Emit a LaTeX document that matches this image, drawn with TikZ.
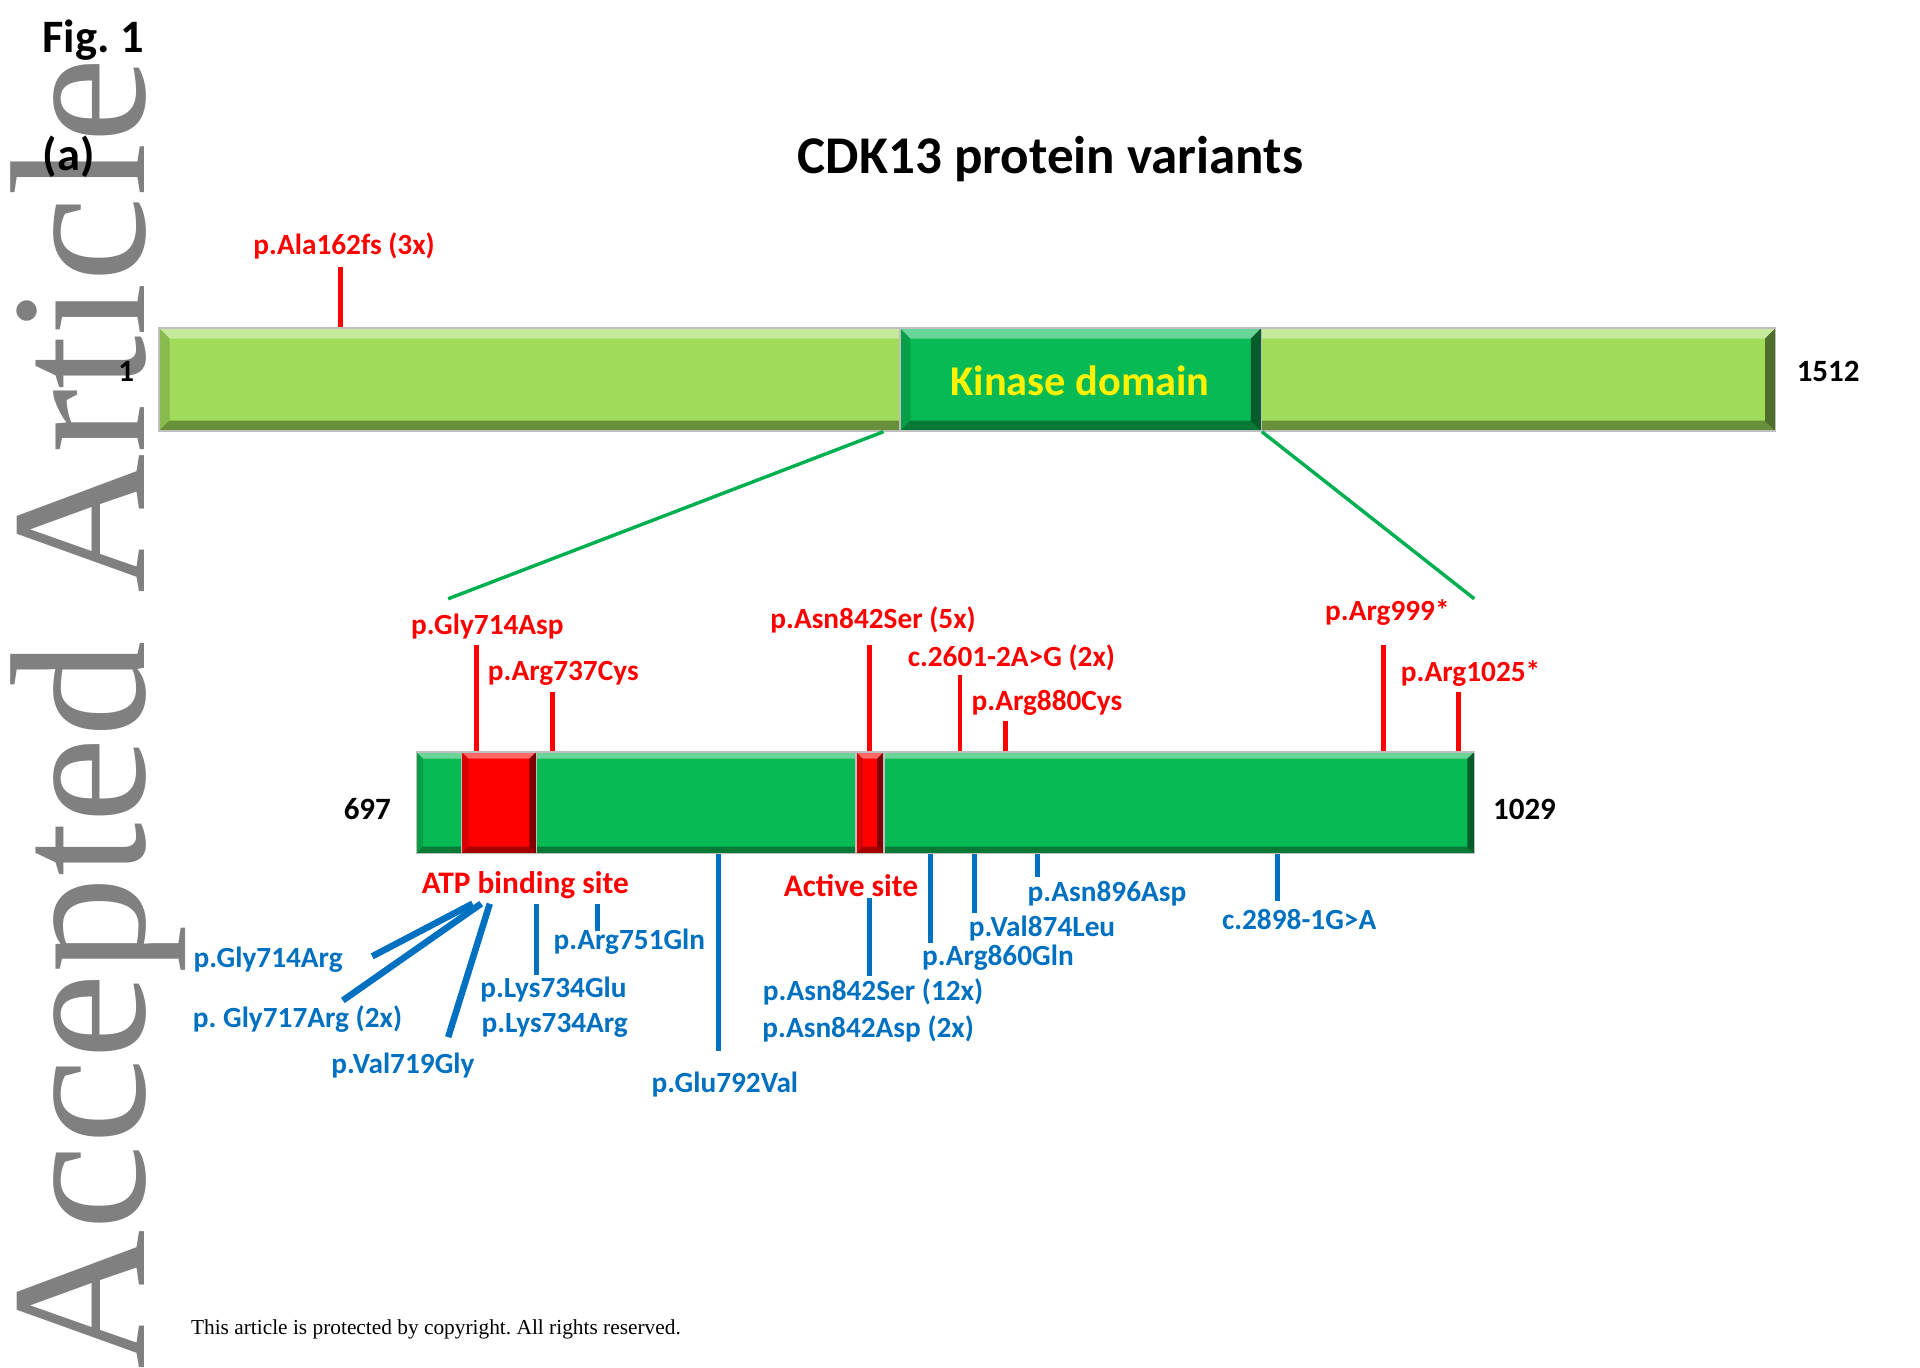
\documentclass[tikz,border=0pt]{standalone}
\usepackage{fontspec}
\setmainfont{Carlito}
\newfontfamily\wmserif{Liberation Serif}
\usepackage{tikz}
\usetikzlibrary{fit,positioning,calc}
\definecolor{mutred}{RGB}{255,0,0}
\definecolor{mutblue}{RGB}{0,112,192}
\definecolor{kinasegreen}{RGB}{8,186,84}
\definecolor{protgreen}{RGB}{160,220,90}
\definecolor{zoomgreen}{RGB}{0,176,80}
\definecolor{wmgray}{RGB}{128,128,128}
\frenchspacing
\newcommand{\lblsize}{\fontsize{8.5}{10}\selectfont}
\tikzset{bevel/.style={path picture={
    \fill[white,opacity=.4] (path picture bounding box.north west) -- (path picture bounding box.north east)
        -- ([xshift=-#1,yshift=-#1]path picture bounding box.north east) -- ([xshift=#1,yshift=-#1]path picture bounding box.north west) -- cycle;
    \fill[black,opacity=.35] (path picture bounding box.south west) -- (path picture bounding box.south east)
        -- ([xshift=-#1,yshift=#1]path picture bounding box.south east) -- ([xshift=#1,yshift=#1]path picture bounding box.south west) -- cycle;
    \fill[black,opacity=.15] (path picture bounding box.south west) -- (path picture bounding box.north west)
        -- ([xshift=#1,yshift=-#1]path picture bounding box.north west) -- ([xshift=#1,yshift=#1]path picture bounding box.south west) -- cycle;
    \fill[black,opacity=.5] (path picture bounding box.south east) -- (path picture bounding box.north east)
        -- ([xshift=-#1,yshift=-#1]path picture bounding box.north east) -- ([xshift=-#1,yshift=#1]path picture bounding box.south east) -- cycle;
}}}
\tikzstyle{bar}=[rectangle,inner sep=0pt,draw=black!25,line width=0.4pt]
\tikzstyle{mut}=[inner sep=0pt,font=\bfseries\lblsize]
\tikzstyle{red mut}=[mut,text=mutred]
\tikzstyle{blue mut}=[mut,text=mutblue]
\tikzstyle{site}=[inner sep=0pt,text=mutred,font=\bfseries\fontsize{9.1}{11}\selectfont]
\tikzstyle{num}=[inner sep=0pt,font=\bfseries\fontsize{9}{11}\selectfont]
\tikzstyle{redtick}=[draw=mutred,line width=1.35pt]
\tikzstyle{bluetick}=[draw=mutblue,line width=1.45pt]
\tikzstyle{atpline}=[draw=mutblue,line width=1.9pt]
\tikzstyle{zoomline}=[draw=zoomgreen,line width=1pt]

\begin{document}
\begin{tikzpicture}[x=0.0125cm,y=-0.0125cm]
\useasboundingbox (0,0) rectangle (1568,1117);

    % watermark
    \node[anchor=base west,rotate=90,inner sep=0pt,text=wmgray,font=\wmserif\fontsize{56}{60}\selectfont] (wm) at (118,1119) {Accepted Article};

    \node[inner sep=0pt,font=\bfseries\fontsize{13.5}{16}\selectfont] (fig) at (76,33) {Fig. 1};
    \node[inner sep=0pt,font=\bfseries\fontsize{13.5}{16}\selectfont] (panel) at (56,128) {(a)};
    \node[inner sep=0pt,font=\bfseries\fontsize{15.4}{18}\selectfont] (title) at (858,130) {CDK13 protein variants};

	% full protein
    \node[bar,fill=protgreen,bevel=3pt,fit={(130,268) (1450,352)}] (prot) {};
    \node[bar,fill=kinasegreen,bevel=3pt,fit={(735,268) (1030,352)}] (kin) {};
    \node[inner sep=0pt,text=yellow,font=\bfseries\fontsize{12.3}{14}\selectfont] (kintxt) at (882,311) {Kinase domain};
    \node[num] (n1) at (103,303) {1};
    \node[num] (n1512) at (1493,303) {1512};

    \node[red mut] (ala) at (281,201) {p.Ala162fs (3x)};
    \coordinate (alat) at (278,218);
    \draw[redtick] (alat) -- (alat |- prot.north);

	% kinase domain
    \node[bar,fill=kinasegreen,bevel=2pt,fit={(340,614) (1204,697)}] (dom) {};
    \node[bar,fill=mutred,bevel=2pt,fit={(377,614) (438,697)}] (atp) {};
    \node[bar,fill=mutred,bevel=2pt,fit={(699,614) (722,697)}] (act) {};
    \node[num] (n697) at (300,661) {697};
    \node[num] (n1029) at (1245,661) {1029};

    \coordinate (zl) at (366,489);
    \coordinate (zr) at (1204,489);
    \draw[zoomline] ([xshift=-4.6pt]kin.south west) -- (zl);
    \draw[zoomline] (kin.south east) -- (zr);

	% variants above
    \foreach \tx/\ty/\lx/\ly/\txt [count=\i] in {389/527/398/512/p.Gly714Asp, 451/565/460/550/p.Arg737Cys,
            710/527/713/506/p.Asn842Ser (5x), 784/551/826/537/c.2601-2A>G (2x), 821/589/855/574/p.Arg880Cys,
            1130/527/1133/500/p.Arg999*, 1191/565/1201/550/p.Arg1025*}
    {
        \node[red mut] (r\i) at (\lx,\ly) {\txt};
        \coordinate (rt\i) at (\tx,\ty);
        \draw[redtick] (rt\i) -- (rt\i |- dom.north);
    }

	% variants below
    \foreach \tx/\ty/\lx/\ly/\txt [count=\i] in {587/858/592/886/p.Glu792Val, 760/770/815/782/p.Arg860Gln,
            796/746/851/758/p.Val874Leu, 847/716/904/730/p.Asn896Asp, 1043/736/1061/751/c.2898-1G>A}
    {
        \node[blue mut] (b\i) at (\lx,\ly) {\txt};
        \coordinate (bt\i) at (\tx,\ty);
        \draw[bluetick] (bt\i |- dom.south) -- (bt\i);
    }

    \node[site] (atplbl) at (429,723) {ATP binding site};
    \node[site] (actlbl) at (695,723) {Active site};

    \node[blue mut] (g714) at (219,784) {p.Gly714Arg};
    \node[blue mut] (g717) at (243,832) {p. Gly717Arg (2x)};
    \node[blue mut] (v719) at (329,870) {p.Val719Gly};
    \node[blue mut] (k734e) at (452,808) {p.Lys734Glu};
    \node[blue mut] (k734r) at (453,837) {p.Lys734Arg};
    \node[blue mut] (r751) at (514,769) {p.Arg751Gln};
    \node[blue mut] (n842s) at (713,810) {p.Asn842Ser (12x)};
    \node[blue mut] (n842d) at (709,840) {p.Asn842Asp (2x)};

    \coordinate (a1) at (386,738);
    \coordinate (a2) at (393,738);
    \coordinate (a3) at (400,738);
    \coordinate (g714e) at (304,781);
    \coordinate (g717e) at (280,817);
    \coordinate (v719e) at (366,847);
    \draw[atpline] (a1) -- (g714e);
    \draw[atpline] (a2) -- (g717e);
    \draw[atpline] (a3) -- (v719e);
    \draw[bluetick] (438,738) -- (438,796);
    \draw[bluetick] (488,738) -- (488,760);
    \draw[bluetick] (710,733) -- (710,797);

    \node[inner sep=0pt,font=\wmserif\fontsize{6.2}{7}\selectfont] (foot) at (356,1086) {This article is protected by copyright. All rights reserved.};

\end{tikzpicture}
\end{document}
